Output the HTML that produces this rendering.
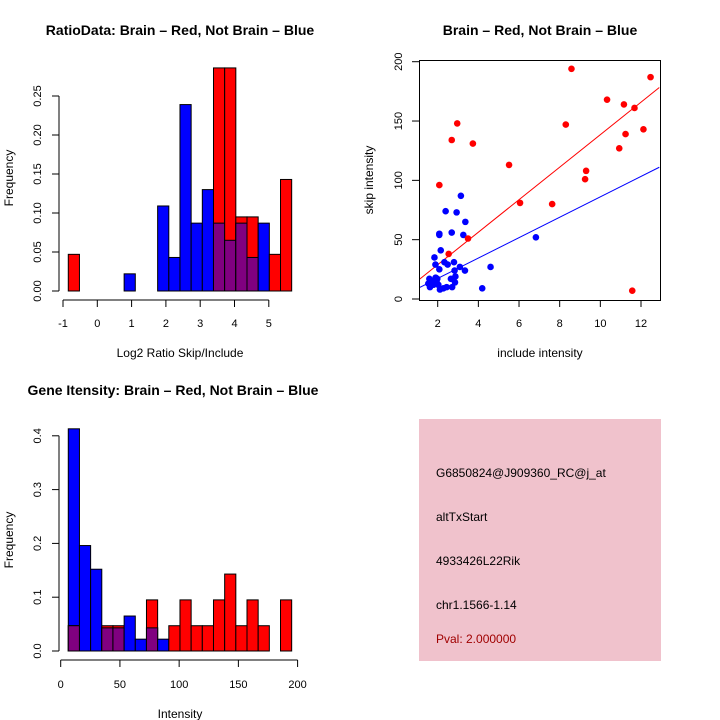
<!DOCTYPE html>
<html><head><meta charset="utf-8"><style>
body{margin:0;background:#fff;}
svg{display:block;font-family:"Liberation Sans",sans-serif;}
</style></head><body>
<svg id="s" width="720" height="720" xmlns="http://www.w3.org/2000/svg">
<rect width="720" height="720" fill="#fff"/>
<text x="180" y="35" font-size="14" font-weight="bold" text-anchor="middle">RatioData: Brain – Red, Not Brain – Blue</text>
<text x="540" y="35" font-size="14" font-weight="bold" text-anchor="middle">Brain – Red, Not Brain – Blue</text>
<text x="173" y="395" font-size="14" font-weight="bold" text-anchor="middle">Gene Itensity: Brain – Red, Not Brain – Blue</text>
<text x="180" y="357" font-size="12" text-anchor="middle">Log2 Ratio Skip/Include</text>
<text x="540" y="357" font-size="12" text-anchor="middle">include intensity</text>
<text x="180" y="718" font-size="12" text-anchor="middle">Intensity</text>
<text transform="translate(13,178) rotate(-90)" font-size="12" text-anchor="middle">Frequency</text>
<text transform="translate(373,180) rotate(-90)" font-size="12" text-anchor="middle">skip intensity</text>
<text transform="translate(13,540) rotate(-90)" font-size="12" text-anchor="middle">Frequency</text>
<g>
<rect x="419" y="419" width="242" height="242" fill="#f0c2cc"/>
<text x="436" y="477" font-size="12">G6850824@J909360_RC@j_at</text>
<text x="436" y="521" font-size="12">altTxStart</text>
<text x="436" y="565" font-size="12">4933426L22Rik</text>
<text x="436" y="609" font-size="12">chr1.1566-1.14</text>
<text x="436" y="643" font-size="12" fill="#a00000">Pval: 2.000000</text>
</g>
<g id="g"></g>
</svg>
<script>
// Ratio histogram data
const ratioBlue=[0,0,0,0,0,0.022,0,0,0.109,0.043,0.239,0.087,0.130,0.087,0.065,0.087,0.043,0.087,0,0];
const ratioRed=[0.047,0,0,0,0,0,0,0,0,0,0,0,0,0.286,0.286,0.095,0.095,0,0.047,0.143];
const ratioXTicks=[-1,0,1,2,3,4,5];
const ratioYTicks=["0.00","0.05","0.10","0.15","0.20","0.25"];
// Intensity histogram data
const intBlue=[0.413,0.196,0.152,0.043,0.043,0.065,0.022,0.043,0.022,0,0,0,0,0,0,0,0,0,0,0];
const intRed=[0.047,0,0,0.047,0.047,0,0,0.095,0,0.047,0.095,0.047,0.047,0.095,0.143,0.047,0.095,0.047,0,0.095];
const intXTicks=[0,50,100,150,200];
const intYTicks=["0.0","0.1","0.2","0.3","0.4"];
// Scatter data
const redX=[2.08,2.96,2.69,3.73,2.54,3.49,5.51,6.05,7.63,8.30,8.58,9.25,9.30,10.33,10.93,11.16,11.24,11.68,12.12,12.47,11.57];
const redY=[96,148,134,131,38,51,113,81,80,147,194,101,108,168,127,164,139,161,143,187,7];
const blueX=[1.84,1.89,2.08,2.08,2.15,2.08,1.98,1.59,1.54,1.62,1.79,1.95,2.03,2.11,2.28,2.44,2.39,2.33,2.49,2.69,2.80,2.83,2.93,3.14,3.09,3.36,3.26,3.34,2.65,2.87,2.85,2.71,4.19,4.60,6.83,1.70,1.90];
const blueY=[35,29,55,54,41,25,17,17,13,10,12,14,12,8,9,10,74,31,29,56,31,24,73,87,27,65,54,24,17,19,14,10,9,27,52,15,18];
const fitRed=[1.5,13.7];
const fitBlue=[0.1,8.6];
const scXTicks=[2,4,6,8,10,12];
const scYTicks=[0,50,100,150,200];

const NS="http://www.w3.org/2000/svg";
const G=document.getElementById('g');
function mk(t,a,p){const e=document.createElementNS(NS,t);for(const k in a)e.setAttribute(k,a[k]);(p||G).appendChild(e);return e;}

function hist(blue,red,x0,x1,y0px,scaleY,xs,xTicks,yTicks,yStep,xLab,yLab,name){
  const n=blue.length,w=(x1-x0)/n;
  const bx=i=>xs(x0+i*w);
  for(let i=0;i<n;i++){
    const L=bx(i),R=bx(i+1);
    const b=blue[i],r=red[i];
    if(b>0){const e=mk('rect',{x:L,y:y0px-b*scaleY,width:R-L,height:b*scaleY,fill:'#0000ff',stroke:'#000','stroke-width':1});
      
      }
    if(r>0){const e=mk('rect',{x:L,y:y0px-r*scaleY,width:R-L,height:r*scaleY,fill:'#ff0000',stroke:'#000','stroke-width':1});
      
      }
    if(b>0&&r>0){const m=Math.min(b,r);const e=mk('rect',{x:L,y:y0px-m*scaleY,width:R-L,height:m*scaleY,fill:'#800080',stroke:'#000','stroke-width':1});
      
      }
  }
  // y axis
  const yTop=y0px-(yTicks.length-1)*yStep*scaleY;
  mk('line',{x1:59,x2:59,y1:y0px,y2:yTop,stroke:'#000'});
  yTicks.forEach((t,i)=>{const y=y0px-i*yStep*scaleY;
    mk('line',{x1:52,x2:59,y1:y,y2:y,stroke:'#000'});
    const e=mk('text',{transform:`translate(${xLab},${y}) rotate(-90)`,'font-size':11,'text-anchor':'middle'});e.textContent=t;
    
    });
  // x axis
  const ay=y0px+9;
  mk('line',{x1:xs(xTicks[0]),x2:xs(xTicks[xTicks.length-1]),y1:ay,y2:ay,stroke:'#000'});
  xTicks.forEach(t=>{const x=xs(t);
    mk('line',{x1:x,x2:x,y1:ay,y2:ay+7,stroke:'#000'});
    const e=mk('text',{x:x,y:yLab,'font-size':11,'text-anchor':'middle'});e.textContent=t;
    
    });
}
// ratio: -1 at 63, 34.3 px/unit
hist(ratioBlue,ratioRed,-0.846,5.667,291,780,v=>63+(v+1)*34.3,ratioXTicks,ratioYTicks,0.05,41,327,'ratio');
// intensity: 0 at 60.7, 1.185 px/unit
hist(intBlue,intRed,6.4,195,651,538,v=>60.7+v*1.1845,intXTicks,intYTicks,0.1,41,688,'intensity');

// scatter
const sx=v=>437.7+(v-2)*20.33, sy=v=>299-v*1.1865;
mk('rect',{x:419.5,y:60.5,width:241,height:240,fill:'none',stroke:'#000'});
scXTicks.forEach(t=>{const x=sx(t);mk('line',{x1:x,x2:x,y1:300,y2:307,stroke:'#000'});
  const e=mk('text',{x:x,y:327,'font-size':11,'text-anchor':'middle'});e.textContent=t;
  
  });
scYTicks.forEach(t=>{const y=sy(t);mk('line',{x1:412,x2:419,y1:y,y2:y,stroke:'#000'});
  const e=mk('text',{transform:`translate(402,${y}) rotate(-90)`,'font-size':11,'text-anchor':'middle'});e.textContent=t;
  
  });
const cp=mk('clipPath',{id:'cp'});mk('rect',{x:420,y:61,width:240,height:239},cp);
function fit(c,col,nm){const xa=1.1,xb=12.9;
  const e=mk('line',{x1:sx(xa),y1:sy(c[0]+c[1]*xa),x2:sx(xb),y2:sy(c[0]+c[1]*xb),stroke:col,'stroke-width':1,'clip-path':'url(#cp)'});
  
  }
fit(fitRed,'#ff0000','red-fit-line');fit(fitBlue,'#0000ff','blue-fit-line');
blueX.forEach((v,i)=>{const e=mk('circle',{cx:sx(v),cy:sy(blueY[i]),r:3.3,fill:'#0000ff'});
  
  });
redX.forEach((v,i)=>{const e=mk('circle',{cx:sx(v),cy:sy(redY[i]),r:3.3,fill:'#ff0000'});
  
  });
</script>
</body></html>
